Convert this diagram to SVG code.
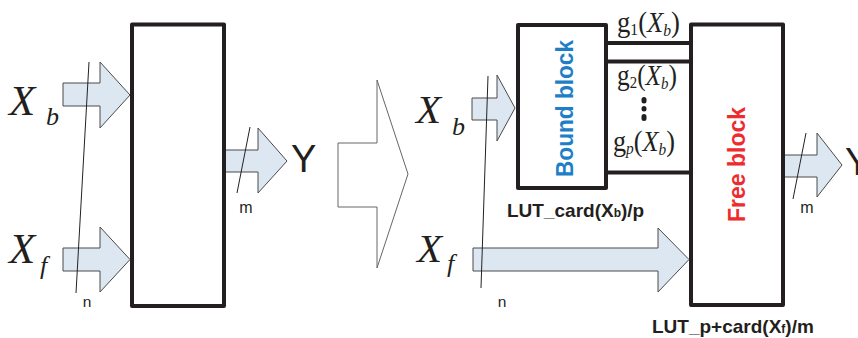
<svg xmlns="http://www.w3.org/2000/svg" width="858" height="338" viewBox="0 0 858 338">
<style>
.blk{fill:#fff;stroke:#231f20;stroke-width:4;stroke-linejoin:round}
.arr{fill:#dde7f2;stroke:#4a4a4a;stroke-width:1}
.big{fill:#fff;stroke:#666;stroke-width:1}
.sl{stroke:#222;stroke-width:1;fill:none}
.bus{stroke:#231f20;stroke-width:4;fill:none}
.var{font-family:"Liberation Serif",serif;font-style:italic;fill:#231f20}
.ser{font-family:"Liberation Serif",serif;fill:#231f20}
.sans{font-family:"Liberation Sans",Arial,sans-serif;fill:#231f20}
.lut{font-family:"Liberation Sans",Arial,sans-serif;font-weight:bold;font-size:19px;fill:#231f20}
.bt{font-family:"Liberation Sans",Arial,sans-serif;font-weight:bold;font-size:24px}
</style>
<rect width="858" height="338" fill="#fff"/>
<g id="connectors">
  <path class="arr" d="M63,83 L100,83 L100,62 L130,95 L100,128 L100,106 L63,106 Z"/>
  <path class="arr" d="M63,248 L100,248 L100,227 L130,259.5 L100,292 L100,271 L63,271 Z"/>
  <path class="arr" d="M225,150 L258,150 L258,128 L287,161 L258,193 L258,172 L225,172 Z"/>
  <line class="sl" x1="89" y1="62" x2="76" y2="293"/>
  <line class="sl" x1="250" y1="127" x2="237" y2="193"/>
  <path class="big" d="M338,143 L377,143 L377,80 L408,174 L377,268 L377,207 L338,207 Z"/>
  <path class="arr" d="M472,98 L497,98 L497,75 L515,108 L497,141 L497,120 L472,120 Z"/>
  <path class="arr" d="M473,248 L658,248 L658,228 L689,259.5 L658,292 L658,271 L473,271 Z"/>
  <path class="arr" d="M783,155 L817,155 L817,133 L842,165 L817,197 L817,177 L783,177 Z"/>
  <line class="sl" x1="488" y1="76" x2="481" y2="288"/>
  <line class="sl" x1="806" y1="133" x2="793" y2="199"/>
  <line class="bus" x1="606" y1="43" x2="691" y2="43"/>
  <line class="bus" x1="606" y1="61.5" x2="691" y2="61.5"/>
  <line class="bus" x1="606" y1="172.5" x2="691" y2="172.5"/>
</g>
<g id="left-block">
  <rect class="blk" x="132" y="24.5" width="92" height="281.5"/>
</g>
<g id="bound-block">
  <rect class="blk" x="518" y="25" width="88" height="163"/>
  <text class="bt" fill="#1f7fc6" transform="translate(573,108.5) rotate(-90)" text-anchor="middle" textLength="137" lengthAdjust="spacingAndGlyphs">Bound block</text>
</g>
<g id="free-block">
  <rect class="blk" x="691" y="24.5" width="92" height="280.5"/>
  <text class="bt" fill="#ee2b2f" transform="translate(745,164.5) rotate(-90)" text-anchor="middle" textLength="115" lengthAdjust="spacingAndGlyphs">Free block</text>
</g>
<g id="labels">
  <text class="var" x="9" y="115" font-size="43">X</text>
  <text class="var" x="46" y="125" font-size="26">b</text>
  <text class="var" x="9" y="263" font-size="43">X</text>
  <text class="var" x="40" y="274" font-size="26">f</text>
  <text class="sans" x="291" y="172" font-size="38">Y</text>
  <text class="sans" x="246" y="213" font-size="16" text-anchor="middle">m</text>
  <text class="sans" x="87" y="307" font-size="15.5" text-anchor="middle">n</text>

  <text class="var" x="416" y="123" font-size="41">X</text>
  <text class="var" x="452" y="135" font-size="26">b</text>
  <text class="var" x="417" y="262" font-size="41">X</text>
  <text class="var" x="447" y="272" font-size="26">f</text>
  <text class="sans" x="502" y="307" font-size="15.5" text-anchor="middle">n</text>
  <text class="sans" x="807" y="213" font-size="16" text-anchor="middle">m</text>
  <text class="sans" x="845" y="175" font-size="38">Y</text>

  <text class="ser" x="617" y="32" font-size="29" textLength="63" lengthAdjust="spacingAndGlyphs">g<tspan font-size="17" dy="3">1</tspan><tspan dy="-3">(</tspan><tspan font-style="italic">X</tspan><tspan font-style="italic" font-size="17" dy="4">b</tspan><tspan dy="-4">)</tspan></text>
  <text class="ser" x="617" y="85" font-size="29" textLength="60" lengthAdjust="spacingAndGlyphs">g<tspan font-size="17" dy="3">2</tspan><tspan dy="-3">(</tspan><tspan font-style="italic">X</tspan><tspan font-style="italic" font-size="17" dy="4">b</tspan><tspan dy="-4">)</tspan></text>
  <text class="ser" x="613" y="151" font-size="29" textLength="62" lengthAdjust="spacingAndGlyphs">g<tspan font-size="17" font-style="italic" dy="3">p</tspan><tspan dy="-3">(</tspan><tspan font-style="italic">X</tspan><tspan font-style="italic" font-size="17" dy="4">b</tspan><tspan dy="-4">)</tspan></text>
  <rect x="641.5" y="97" width="5" height="6.5" rx="2.5" fill="#231f20"/>
  <rect x="641.5" y="106" width="5" height="5.5" rx="2.5" fill="#231f20"/>
  <rect x="641.5" y="114" width="5" height="7" rx="2.5" fill="#231f20"/>

  <text class="lut" x="507" y="217">LUT_card(X<tspan font-size="12">b</tspan>)/p</text>
  <text class="lut" x="652" y="333">LUT_p+card(X<tspan font-size="12">f</tspan>)/m</text>
</g>
</svg>
